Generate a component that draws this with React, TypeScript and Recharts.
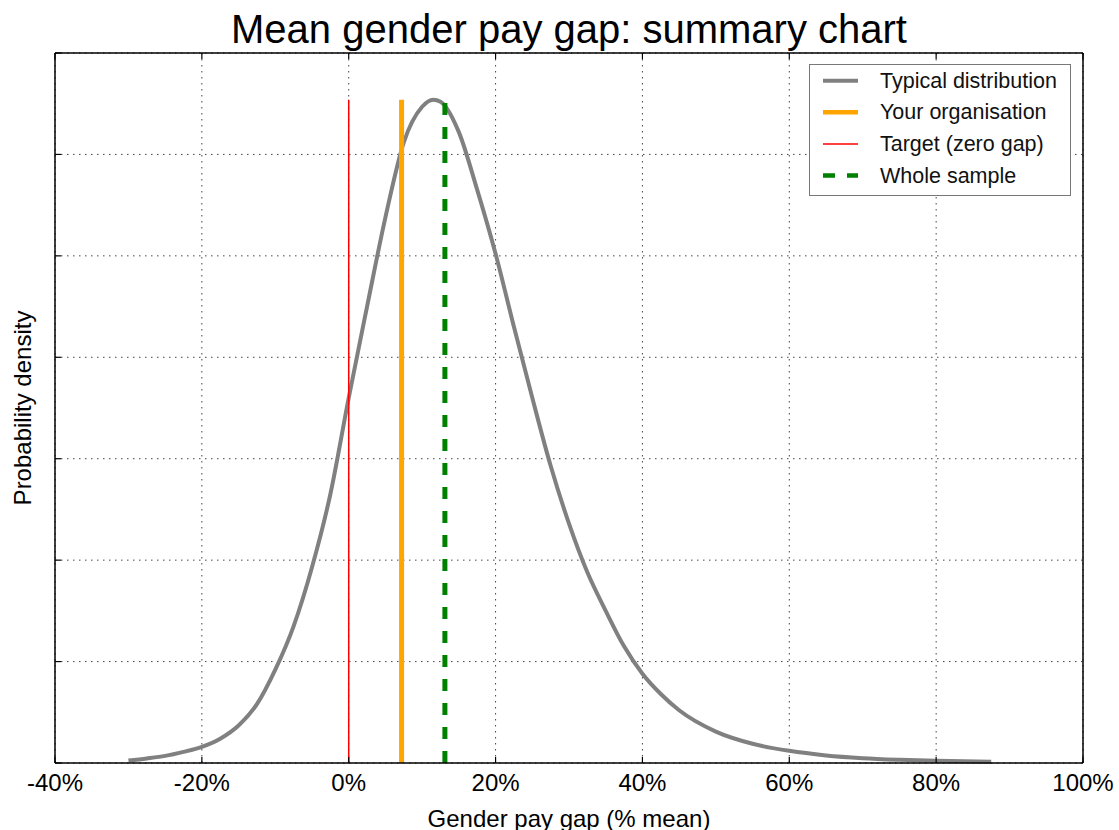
import React from 'react';
import {
  LineChart,
  Line,
  XAxis,
  YAxis,
  CartesianGrid,
  ReferenceLine,
  Legend,
  Label,
} from 'recharts';

// ---- data ----
const gapPct = [
  -30, -27.5, -25, -22.5, -20, -17.5, -15, -12.5, -10, -7.5, -5, -2.5, 0, 2.5, 5, 7.5, 10, 11.5,
  12.5, 15, 17.5, 20, 22.5, 25, 27.5, 30, 32.5, 35, 37.5, 40, 42.5, 45, 50, 55, 60, 65, 70, 75, 80,
  87.5,
];
const density = [
  0.025, 0.045, 0.07, 0.11, 0.16, 0.24, 0.37, 0.58, 0.92, 1.35, 1.93, 2.65, 3.6, 4.5, 5.38, 6.12,
  6.47, 6.54, 6.52, 6.22, 5.65, 5.02, 4.3, 3.6, 2.93, 2.36, 1.88, 1.5, 1.15, 0.88, 0.68, 0.52, 0.31,
  0.19, 0.12, 0.075, 0.048, 0.032, 0.021, 0.012,
];
const yourOrganisation = 7.2;
const target = 0;
const wholeSample = 13.1;

const xTicks = [-40, -20, 0, 20, 40, 60, 80, 100];
const yTicks = [0, 1, 2, 3, 4, 5, 6, 7];
const legendLabels = ['Typical distribution', 'Your organisation', 'Target (zero gap)', 'Whole sample'];
const titleText = 'Mean gender pay gap: summary chart';
const xLabelText = 'Gender pay gap (% mean)';
const yLabelText = 'Probability density';

const chartData = gapPct.map((x, i) => ({ x, y: density[i] }));
const peak = Math.max(...density);

const FONT = '"Liberation Sans", Arial, sans-serif';

const legendStyles = [
  { stroke: '#808080', width: 4, dash: undefined as string | undefined },
  { stroke: '#ffa500', width: 4.5, dash: undefined as string | undefined },
  { stroke: '#ff0000', width: 1.5, dash: undefined as string | undefined },
  { stroke: '#008000', width: 4.5, dash: '12 12' },
];

const LegendBox = () => (
  <svg width={262} height={132} style={{ display: 'block', fontFamily: FONT }}>
    <rect x={0.5} y={0.5} width={261} height={131} fill="#fff" stroke="#777" strokeWidth={1} />
    {legendLabels.map((lab, i) => {
      const cy = 16.7 + i * 31.6;
      const s = legendStyles[i];
      return (
        <g key={lab}>
          <line
            x1={14}
            x2={49}
            y1={cy}
            y2={cy}
            stroke={s.stroke}
            strokeWidth={s.width}
            strokeDasharray={s.dash}
          />
          <text x={71} y={cy} dominantBaseline="central" fontSize={21.5} fill="#111">
            {lab}
          </text>
        </g>
      );
    })}
  </svg>
);

export default function App() {
  return (
    <div style={{ position: 'absolute', left: 0, top: 0, width: 1119, height: 830, background: '#fff' }}>
      <LineChart
        width={1119}
        height={830}
        data={chartData}
        margin={{ top: 52, right: 35, bottom: 27, left: 25 }}
        style={{ fontFamily: FONT }}
      >
        <CartesianGrid stroke="#444" strokeDasharray="1.5 4.5" strokeWidth={1} />
        <XAxis
          dataKey="x"
          type="number"
          domain={[-40, 100]}
          ticks={xTicks}
          allowDataOverflow
          height={40}
          axisLine={{ stroke: '#000', strokeWidth: 1.5 }}
          tickLine={{ stroke: '#000', strokeWidth: 1.2 }}
          tickSize={-6}
          tickMargin={17}
          tick={{ fill: '#000', fontSize: 24, fontFamily: FONT }}
          tickFormatter={(v: number) => `${v}%`}
        >
          <Label
            content={(props: any) => {
              const vb = props.viewBox || {};
              return (
                <text
                  x={vb.x + vb.width / 2}
                  y={818}
                  textAnchor="middle"
                  dominantBaseline="central"
                  fontSize={24}
                  fontFamily={FONT}
                  fill="#000"
                >
                  {xLabelText}
                </text>
              );
            }}
          />
        </XAxis>
        <XAxis
          xAxisId="top"
          orientation="top"
          dataKey="x"
          type="number"
          domain={[-40, 100]}
          ticks={xTicks}
          height={1}
          axisLine={{ stroke: '#000', strokeWidth: 1.5 }}
          tickLine={{ stroke: '#000', strokeWidth: 1.2 }}
          tickSize={-6}
          tickFormatter={() => ''}
        >
          <Label
            content={(props: any) => {
              const vb = props.viewBox || {};
              return (
                <text
                  x={vb.x + vb.width / 2}
                  y={43}
                  textAnchor="middle"
                  fontSize={40}
                  fontFamily={FONT}
                  fill="#000"
                >
                  {titleText}
                </text>
              );
            }}
          />
        </XAxis>
        <YAxis
          type="number"
          domain={[0, 7]}
          ticks={yTicks}
          width={30}
          axisLine={{ stroke: '#000', strokeWidth: 1.5 }}
          tickLine={{ stroke: '#000', strokeWidth: 1.2 }}
          tickSize={-6}
          tickFormatter={() => ''}
        >
          <Label
            content={(props: any) => {
              const vb = props.viewBox || {};
              const cx = 22;
              const cy = vb.y + vb.height / 2;
              return (
                <text
                  x={cx}
                  y={cy}
                  textAnchor="middle"
                  dominantBaseline="central"
                  transform={`rotate(-90, ${cx}, ${cy})`}
                  fontSize={24}
                  fontFamily={FONT}
                  fill="#000"
                >
                  {yLabelText}
                </text>
              );
            }}
          />
        </YAxis>
        <YAxis
          yAxisId="right"
          orientation="right"
          type="number"
          domain={[0, 7]}
          ticks={yTicks}
          width={1}
          axisLine={{ stroke: '#000', strokeWidth: 1.5 }}
          tickLine={{ stroke: '#000', strokeWidth: 1.2 }}
          tickSize={-6}
          tickFormatter={() => ''}
        />
        <Line
          type="monotone"
          dataKey="y"
          stroke="#808080"
          strokeWidth={4}
          dot={false}
          activeDot={false}
          isAnimationActive={false}
        />
        <ReferenceLine
          segment={[
            { x: yourOrganisation, y: 0 },
            { x: yourOrganisation, y: peak },
          ]}
          stroke="#ffa500"
          strokeWidth={5}
        />
        <ReferenceLine
          segment={[
            { x: target, y: 0 },
            { x: target, y: peak },
          ]}
          stroke="#ff0000"
          strokeWidth={1.5}
        />
        <ReferenceLine
          segment={[
            { x: wholeSample, y: 0 },
            { x: wholeSample, y: peak },
          ]}
          stroke="#008000"
          strokeWidth={5}
          strokeDasharray="12 12"
        />
        <Legend
          layout="vertical"
          align="center"
          verticalAlign="middle"
          wrapperStyle={{ left: 809, top: 64, width: 262, height: 132 }}
          content={() => <LegendBox />}
        />
      </LineChart>
    </div>
  );
}
